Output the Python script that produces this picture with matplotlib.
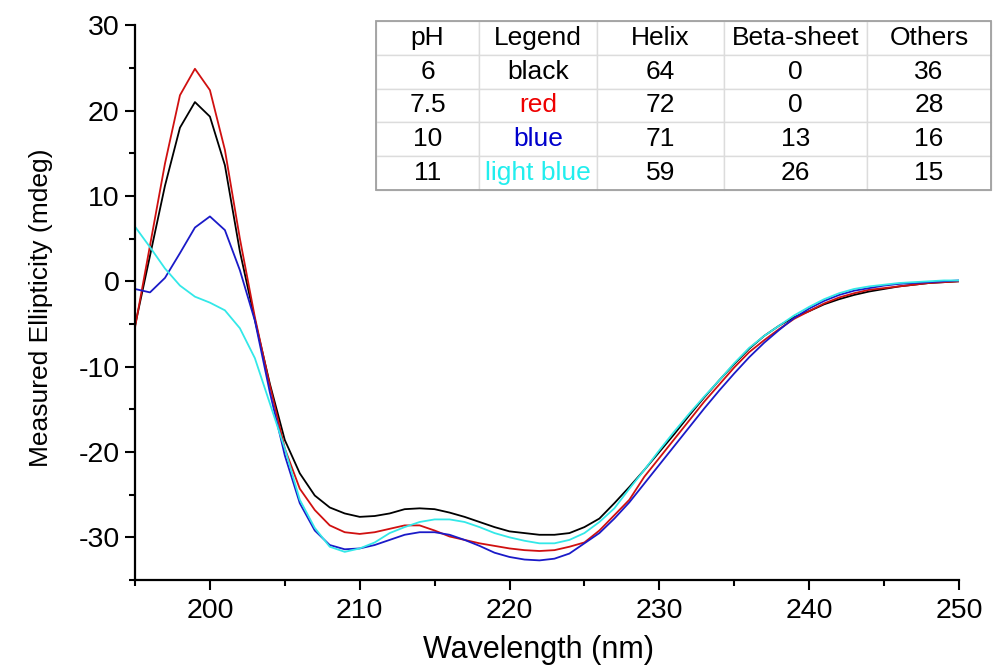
import matplotlib
matplotlib.use("Agg")
import matplotlib.pyplot as plt
from matplotlib.patches import Rectangle
from matplotlib.ticker import MultipleLocator

plt.rcParams['font.family'] = ['Liberation Sans', 'DejaVu Sans']
plt.rcParams['axes.unicode_minus'] = False

wavelength = list(range(195, 251))

ph6_black = [-5.2, 3.0, 11.2, 18.0, 21.0, 19.3, 13.6, 3.5, -4.5, -12.0,
             -18.6, -22.5, -25.1, -26.5, -27.2, -27.6, -27.5, -27.2, -26.7, -26.6,
             -26.7, -27.1, -27.6, -28.2, -28.8, -29.3, -29.5, -29.7, -29.7, -29.5,
             -28.8, -27.8, -26.0, -24.1, -22.1, -20.0, -17.9, -15.7, -13.6, -11.6,
             -9.7, -7.9, -6.4, -5.2, -4.2, -3.5, -2.7, -2.1, -1.6, -1.2,
             -0.9, -0.6, -0.4, -0.2, -0.1, 0.0]

ph75_red = [-5.4, 4.2, 13.8, 21.8, 24.9, 22.4, 15.4, 5.0, -4.2, -12.2,
            -19.6, -24.3, -26.8, -28.6, -29.4, -29.6, -29.4, -29.0, -28.6, -28.6,
            -29.2, -29.9, -30.3, -30.7, -31.0, -31.3, -31.5, -31.6, -31.5, -31.1,
            -30.6, -29.2, -27.4, -25.6, -22.9, -20.7, -18.5, -16.3, -14.1, -12.1,
            -10.1, -8.3, -6.9, -5.6, -4.4, -3.5, -2.6, -1.9, -1.4, -1.0,
            -0.8, -0.6, -0.4, -0.2, -0.1, 0.0]

ph10_blue = [-0.9, -1.3, 0.4, 3.3, 6.3, 7.6, 6.0, 1.3, -4.6, -13.0,
             -20.4, -26.0, -29.2, -30.9, -31.4, -31.3, -30.9, -30.3, -29.7, -29.4,
             -29.4, -29.7, -30.3, -31.0, -31.8, -32.3, -32.6, -32.7, -32.5, -31.9,
             -30.7, -29.5, -27.8, -25.9, -23.7, -21.5, -19.3, -17.1, -14.9, -12.8,
             -10.8, -8.9, -7.2, -5.7, -4.3, -3.2, -2.3, -1.6, -1.1, -0.8,
             -0.5, -0.3, -0.2, -0.1, 0.0, 0.1]

ph11_lightblue = [6.4, 4.0, 1.5, -0.5, -1.8, -2.5, -3.4, -5.5, -9.0, -14.3,
                  -19.6, -25.6, -28.9, -31.1, -31.7, -31.3, -30.6, -29.5, -28.8, -28.2,
                  -27.9, -27.9, -28.2, -28.8, -29.5, -30.0, -30.4, -30.7, -30.7, -30.3,
                  -29.5, -28.2, -26.6, -24.3, -22.1, -19.8, -17.6, -15.5, -13.5, -11.6,
                  -9.6, -7.8, -6.4, -5.2, -4.0, -3.0, -2.1, -1.4, -0.9, -0.6,
                  -0.4, -0.2, -0.1, 0.0, 0.1, 0.1]

# table data
table_header = ["pH", "Legend", "Helix", "Beta-sheet", "Others"]
table_ph = ["6", "7.5", "10", "11"]
table_legend = ["black", "red", "blue", "light blue"]
table_helix = ["64", "72", "71", "59"]
table_beta = ["0", "0", "13", "26"]
table_others = ["36", "28", "16", "15"]

line_colors = ["#000000", "#d01010", "#1a1ac8", "#33e8e8"]
text_colors = ["#000000", "#ee0000", "#0000cc", "#22eeee"]

fig = plt.figure(figsize=(9.95, 6.70), dpi=100)
ax = fig.add_axes([0.1357, 0.1343, 0.828, 0.828])

for ys, c in zip([ph6_black, ph75_red, ph10_blue, ph11_lightblue], line_colors):
    ax.plot(wavelength, ys, color=c, lw=1.3)

ax.set_xlim(195, 250)
ax.set_ylim(-35, 30)
ax.xaxis.set_major_locator(MultipleLocator(10))
ax.xaxis.set_minor_locator(MultipleLocator(5))
ax.yaxis.set_major_locator(MultipleLocator(10))
ax.yaxis.set_minor_locator(MultipleLocator(5))
ax.spines['top'].set_visible(False)
ax.spines['right'].set_visible(False)
for s in ['left', 'bottom']:
    ax.spines[s].set_linewidth(1.6)
ax.tick_params(which='major', direction='out', length=7, width=1.5,
               labelsize=20.5, pad=4)
ax.tick_params(which='minor', direction='out', length=4.5, width=1.5)
ax.tick_params(axis='x', which='major', pad=6)
ax.set_xlabel("Wavelength (nm)", fontsize=22)
ax.xaxis.set_label_coords(0.49, -0.100)
ax.set_ylabel("Measured Ellipticity (mdeg)", fontsize=19)
ax.yaxis.set_label_coords(-0.10, 0.49)

# table
tax = fig.add_axes([376/995, 1 - 190/670, 615/995, 169/670])
tax.axis('off')
cell_text = [list(r) for r in zip(table_ph, table_legend, table_helix, table_beta, table_others)]
col_w = [103, 118, 127, 143, 124]
tot = sum(col_w)
tbl = tax.table(cellText=cell_text, colLabels=table_header, cellLoc='center',
                bbox=[0, 0, 1, 1], colWidths=[w / tot for w in col_w])
tbl.auto_set_font_size(False)
for (r, c), cell in tbl.get_celld().items():
    cell.set_edgecolor('#dcdcdc')
    cell.set_linewidth(1.0)
    cell.get_text().set_fontsize(19)
    if r >= 1 and c == 1:
        cell.get_text().set_color(text_colors[r - 1])
tax.add_patch(Rectangle((0, 0), 1, 1, transform=tax.transAxes, fill=False,
                        edgecolor='#a0a0a0', lw=1.3, clip_on=False, zorder=5))

fig.savefig("out.png", dpi=100)
